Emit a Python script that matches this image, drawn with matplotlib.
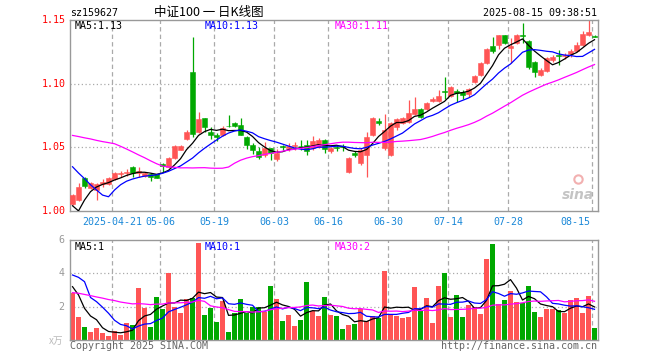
import numpy as np
import pandas as pd
import matplotlib
matplotlib.use("Agg")
import matplotlib.pyplot as plt
from matplotlib.transforms import blended_transform_factory

# daily candles, 2025-04-10 .. 2025-08-15
open_ = [1.0055, 1.0086, 1.0259, 1.0181, 1.0165, 1.0212, 1.0212, 1.0251, 1.0294, 1.0302,
         1.0346, 1.0302, 1.0275, 1.0291, 1.0287, 1.0369, 1.0346, 1.0416, 1.0479, 1.0565,
         1.1092, 1.0620, 1.0730, 1.0620, 1.0597, 1.0597, 1.0671, 1.0691, 1.0675, 1.0581,
         1.0518, 1.0471, 1.0440, 1.0495, 1.0408, 1.0507, 1.0495, 1.0510, 1.0514, 1.0518,
         1.0495, 1.0503, 1.0558, 1.0471, 1.0499, 1.0507, 1.0306, 1.0455, 1.0377, 1.0440,
         1.0597, 1.0703, 1.0495, 1.0440, 1.0660, 1.0691, 1.0699, 1.0762, 1.0801, 1.0801,
         1.0864, 1.0864, 1.0942, 1.0903, 1.0942, 1.0935, 1.0919, 1.1013, 1.1068, 1.1162,
         1.1296, 1.1304, 1.1382, 1.1280, 1.1319, 1.1386, 1.1335, 1.1170, 1.1068, 1.1099,
         1.1186, 1.1229, 1.1221, 1.1233, 1.1257, 1.1304, 1.1382, 1.1378]
high = [1.0134, 1.0220, 1.0267, 1.0228, 1.0220, 1.0251, 1.0267, 1.0306, 1.0314, 1.0330,
        1.0353, 1.0346, 1.0306, 1.0298, 1.0291, 1.0377, 1.0424, 1.0518, 1.0518, 1.0636,
        1.1366, 1.0777, 1.0730, 1.0660, 1.0613, 1.0668, 1.0754, 1.0699, 1.0730, 1.0589,
        1.0534, 1.0503, 1.0542, 1.0495, 1.0487, 1.0518, 1.0534, 1.0542, 1.0558, 1.0558,
        1.0589, 1.0573, 1.0565, 1.0503, 1.0518, 1.0526, 1.0424, 1.0471, 1.0495, 1.0620,
        1.0738, 1.0730, 1.0762, 1.0699, 1.0730, 1.0738, 1.0872, 1.0895, 1.0809, 1.0856,
        1.0895, 1.0950, 1.1052, 1.0982, 1.0958, 1.0950, 1.0966, 1.1068, 1.1170, 1.1280,
        1.1366, 1.1382, 1.1382, 1.1359, 1.1390, 1.1476, 1.1343, 1.1178, 1.1123, 1.1209,
        1.1225, 1.1264, 1.1241, 1.1272, 1.1327, 1.1414, 1.1505, 1.1382]
low = [1.0047, 1.0079, 1.0181, 1.0173, 1.0086, 1.0188, 1.0204, 1.0243, 1.0267, 1.0275,
       1.0267, 1.0267, 1.0267, 1.0236, 1.0259, 1.0306, 1.0338, 1.0408, 1.0479, 1.0558,
       1.0581, 1.0613, 1.0620, 1.0565, 1.0550, 1.0589, 1.0660, 1.0660, 1.0597, 1.0487,
       1.0448, 1.0408, 1.0424, 1.0401, 1.0393, 1.0479, 1.0471, 1.0479, 1.0479, 1.0440,
       1.0479, 1.0495, 1.0455, 1.0455, 1.0471, 1.0471, 1.0298, 1.0424, 1.0361, 1.0267,
       1.0589, 1.0675, 1.0479, 1.0432, 1.0636, 1.0683, 1.0691, 1.0754, 1.0730, 1.0793,
       1.0856, 1.0856, 1.0880, 1.0895, 1.0856, 1.0880, 1.0895, 1.1005, 1.1060, 1.1154,
       1.1241, 1.1272, 1.1312, 1.1162, 1.1312, 1.1319, 1.1115, 1.1052, 1.1060, 1.1092,
       1.1170, 1.1147, 1.1194, 1.1209, 1.1249, 1.1296, 1.1374, 1.1366]
close = [1.0126, 1.0188, 1.0196, 1.0220, 1.0212, 1.0228, 1.0259, 1.0298, 1.0302, 1.0310,
         1.0298, 1.0314, 1.0298, 1.0267, 1.0263, 1.0353, 1.0416, 1.0510, 1.0510, 1.0620,
         1.0605, 1.0723, 1.0660, 1.0597, 1.0581, 1.0652, 1.0664, 1.0668, 1.0597, 1.0518,
         1.0479, 1.0424, 1.0495, 1.0455, 1.0455, 1.0499, 1.0510, 1.0518, 1.0507, 1.0471,
         1.0550, 1.0558, 1.0487, 1.0495, 1.0491, 1.0499, 1.0416, 1.0440, 1.0479, 1.0581,
         1.0730, 1.0695, 1.0636, 1.0691, 1.0723, 1.0730, 1.0770, 1.0801, 1.0738, 1.0848,
         1.0880, 1.0903, 1.0935, 1.0974, 1.0927, 1.0911, 1.0958, 1.1060, 1.1162, 1.1272,
         1.1257, 1.1382, 1.1319, 1.1296, 1.1382, 1.1378, 1.1131, 1.1092, 1.1107, 1.1202,
         1.1209, 1.1221, 1.1229, 1.1257, 1.1304, 1.1390, 1.1406, 1.1370]
# volume in 10k lots
volume = [2.8, 1.36, 0.76, 0.46, 0.7, 0.4, 0.24, 0.54, 0.28, 1.0,
          0.88, 3.1, 1.94, 0.76, 2.56, 1.84, 4.0, 1.96, 1.6, 2.46,
          2.5, 5.84, 1.5, 1.94, 1.1, 2.36, 0.5, 1.6, 2.46, 1.6,
          1.96, 1.96, 1.7, 3.24, 2.46, 1.16, 1.5, 0.84, 1.2, 3.5,
          1.76, 1.44, 2.6, 1.5, 1.44, 0.66, 0.9, 0.96, 1.84, 1.16,
          1.44, 1.3, 4.16, 1.5, 1.44, 1.34, 1.4, 3.2, 1.8, 2.54,
          1.04, 3.24, 4.04, 1.36, 2.7, 1.4, 2.1, 1.96, 1.56, 4.86,
          5.76, 2.16, 2.4, 2.94, 2.3, 2.2, 3.24, 1.7, 1.36, 1.84,
          1.86, 1.8, 1.64, 2.4, 2.5, 1.64, 2.64, 0.74]

# 29 sessions before the window, only used so the moving averages start right
hist_close = [1.045, 1.050, 1.048, 1.055, 1.052, 1.050, 1.056,
              1.090, 1.095, 1.098, 1.102, 1.096, 1.100, 1.094, 1.092,
              1.062, 1.058, 1.066, 1.060, 1.064,
              1.068, 1.064, 1.070, 1.062, 1.063,
              1.039, 0.977, 0.989, 1.003]
hist_vol = [2.4, 2.9, 2.6, 3.1, 2.5, 2.8, 2.4, 2.9, 2.7, 2.5, 2.6, 2.66,
            1.9, 1.6, 1.8, 2.0, 1.7, 1.5, 1.84, 1.8,
            2.76, 3.36, 9.96, 3.2, 3.72,
            3.86, 4.76, 2.76, 1.82]

tick_idx = [7, 15, 24, 34, 43, 53, 63, 73, 87]
tick_labels = ["2025-04-21", "05-06", "05-19", "06-03", "06-16",
               "06-30", "07-14", "07-28", "08-15"]
price_ticks = [1.00, 1.05, 1.10, 1.15]
vol_ticks = [2, 4, 6]

RED = "#ff5555"
GREEN = "#00a800"
GRID = "#aaaaaa"
MONO = "DejaVu Sans Mono"
CJK = ["Noto Sans CJK SC", "DejaVu Sans"]

n = len(close)
x = np.arange(n)
o = np.array(open_)
c = np.array(close)
up = c >= o
cols = np.where(up, RED, GREEN)

ma_c = pd.Series(hist_close + close)
ma_v = pd.Series(hist_vol + volume)
k = len(hist_close)
pma = {w: ma_c.rolling(w).mean().to_numpy()[k:] for w in (5, 10, 30)}
vma = {w: ma_v.rolling(w).mean().to_numpy()[k:] for w in (5, 10, 30)}

W, H = 660, 360
fig = plt.figure(figsize=(6.6, 3.6), dpi=100)
fig.patch.set_facecolor("white")


def px_axes(l, t, r, b):
    return fig.add_axes([l / W, 1 - b / H, (r - l) / W, (b - t) / H])


def fig_text(px, py, s, **kw):
    kw.setdefault("family", MONO)
    kw.setdefault("fontsize", 7.2)
    kw.setdefault("va", "center")
    fig.text(px / W, 1 - py / H, s, **kw)


ax = px_axes(70, 20, 598, 211)
axv = px_axes(70, 240, 598, 340)

for a in (ax, axv):
    a.set_xlim(-0.42, n - 0.42)
    a.set_xticks([])
    a.set_yticks([])
    for sp in a.spines.values():
        sp.set_color("#999999")
        sp.set_linewidth(1.0)
    for i in tick_idx:
        a.axvline(i - 0.4, color=GRID, lw=0.9, ls=(0, (3.5, 2.5)), zorder=0)

# price panel
ax.set_ylim(1.00, 1.15)
for v in (1.05, 1.10):
    ax.axhline(v, color=GRID, lw=0.9, ls=(0, (1, 2)), zorder=0)
ax.vlines(x, low, high, colors=cols, lw=0.9, zorder=2)
body_bot = np.minimum(o, c)
body_h = np.maximum(np.abs(c - o), 0.0005)
ax.bar(x, body_h, 0.78, bottom=body_bot, color=cols, edgecolor=cols, lw=0.4, zorder=3)
ax.plot(x, pma[5], color="black", lw=0.9, zorder=4)
ax.plot(x, pma[10], color="#0000ff", lw=0.9, zorder=4)
ax.plot(x, pma[30], color="#ff00ff", lw=0.9, zorder=4)

ty = blended_transform_factory(ax.transAxes, ax.transData)
for v in price_ticks:
    ax.text(-0.008, v, f"{v:.2f}", transform=ty, ha="right", va="center",
            family=MONO, fontsize=7.2, color="#ff0000")
tx = blended_transform_factory(ax.transData, ax.transAxes)
for i, lab in zip(tick_idx, tick_labels):
    if i == n - 1:
        ax.text(i - 0.7, -0.055, lab, transform=tx, ha="right", va="center",
                family=MONO, fontsize=7.2, color="#1a88d8")
    else:
        ax.text(i - 0.4, -0.055, lab, transform=tx, ha="center", va="center",
                family=MONO, fontsize=7.2, color="#1a88d8")

# sina watermark
ax.text(0.962, 0.085, "sina", transform=ax.transAxes, ha="center", va="center",
        fontsize=10, fontweight="bold", style="italic", color="#c4c4c4", zorder=1)
ax.plot([0.962], [0.17], transform=ax.transAxes, marker="o", ms=6, mfc="none",
        mec="#f2b0b0", mew=1.5, zorder=1)

# volume panel
axv.set_ylim(0, 6)
for v in (2, 4):
    axv.axhline(v, color=GRID, lw=0.9, ls=(0, (1, 2)), zorder=0)
axv.bar(x, volume, 0.8, color=cols, lw=0, zorder=2)
axv.plot(x, vma[5], color="black", lw=0.9, zorder=4)
axv.plot(x, vma[10], color="#0000ff", lw=0.9, zorder=4)
axv.plot(x, vma[30], color="#ff00ff", lw=0.9, zorder=4)
tyv = blended_transform_factory(axv.transAxes, axv.transData)
for v in vol_ticks:
    axv.text(-0.01, v, str(v), transform=tyv, ha="right", va="center",
             family=MONO, fontsize=7.2, color="#999999")

# header and legends
fig_text(70, 12.5, "sz159627")
fig_text(209, 12, "中证100 一 日K线图", family=CJK, fontsize=9, ha="center")
fig_text(597, 12.5, "2025-08-15 09:38:51", ha="right")
fig_text(75, 26, f"MA5:{pma[5][-1]:.2f}")
fig_text(205, 26, f"MA10:{pma[10][-1]:.2f}", color="#0000ff")
fig_text(335, 26, f"MA30:{pma[30][-1]:.2f}", color="#ff00ff")
fig_text(75, 246.5, "MA5:1")
fig_text(205, 246.5, "MA10:1", color="#0000ff")
fig_text(335, 246.5, "MA30:2", color="#ff00ff")
fig_text(49, 341, "x万", family=CJK, fontsize=7, color="#bbbbbb")
fig_text(70, 346, "Copyright 2025 SINA.COM", color="#666666")
fig_text(597, 346, "http://finance.sina.com.cn", ha="right", color="#666666")

fig.savefig("out.png", dpi=100, facecolor="white")
